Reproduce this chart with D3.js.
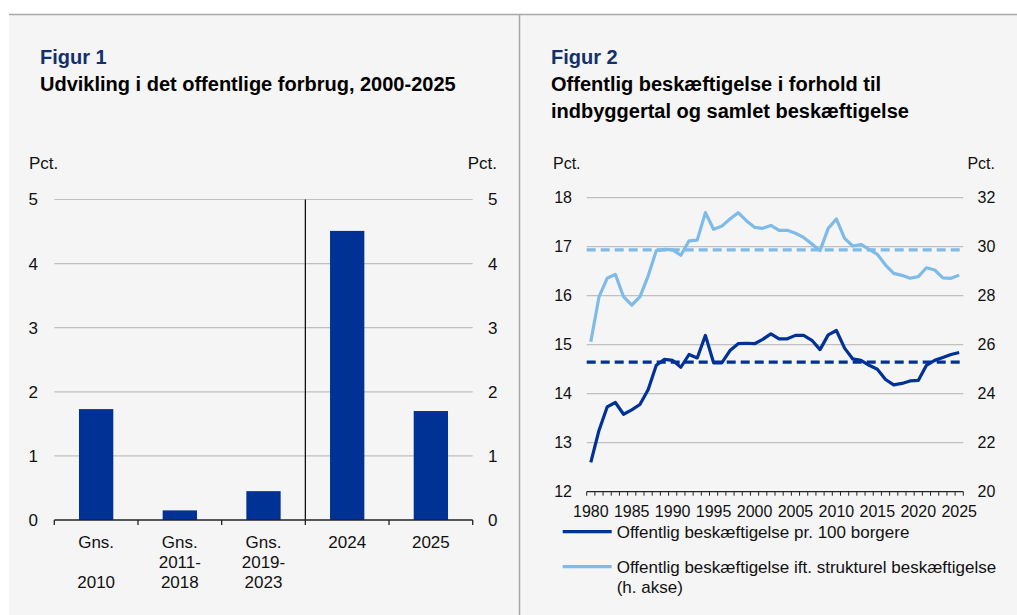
<!DOCTYPE html>
<html><head><meta charset="utf-8">
<script src="https://cdn.jsdelivr.net/npm/d3@7"></script>
<style>
html,body{margin:0;padding:0;background:#fff;}
svg{display:block;font-family:"Liberation Sans",Arial,sans-serif;}
</style></head>
<body>
<script>
// ---------- Data ----------
const fig1Categories = ["Gns.\n\n2010", "Gns.\n2011-\n2018", "Gns.\n2019-\n2023", "2024", "2025"];
const fig1Values = [1.73, 0.15, 0.45, 4.51, 1.70];
const fig1YTicks = [0, 1, 2, 3, 4, 5];

const years = d3.range(1980, 2026);
const perCitizen = [12.60, 13.25, 13.73, 13.82, 13.58, 13.67, 13.78, 14.08, 14.58, 14.70,
  14.68, 14.54, 14.80, 14.73, 15.19, 14.63, 14.63, 14.88, 15.02, 15.03,
  15.02, 15.11, 15.22, 15.12, 15.12, 15.19, 15.19, 15.09, 14.90, 15.20,
  15.29, 14.93, 14.71, 14.68, 14.58, 14.50, 14.29, 14.18, 14.21, 14.26,
  14.27, 14.58, 14.68, 14.74, 14.80, 14.84];
const perStructural = [26.12, 27.95, 28.71, 28.87, 27.96, 27.62, 27.95, 28.80, 29.84, 29.89,
  29.87, 29.65, 30.24, 30.27, 31.39, 30.71, 30.84, 31.13, 31.39, 31.06,
  30.79, 30.75, 30.87, 30.67, 30.67, 30.55, 30.38, 30.11, 29.84, 30.75,
  31.13, 30.34, 30.03, 30.09, 29.89, 29.69, 29.25, 28.91, 28.83, 28.71,
  28.78, 29.14, 29.05, 28.73, 28.71, 28.84];
const perCitizenAvg = 14.645;
const perStructuralAvg = 29.87;
const fig2LeftTicks = [12, 13, 14, 15, 16, 17, 18];
const fig2RightTicks = [20, 22, 24, 26, 28, 30, 32];
const fig2LabelYears = [1980, 1985, 1990, 1995, 2000, 2005, 2010, 2015, 2020, 2025];
const legendLabels = ["Offentlig beskæftigelse pr. 100 borgere", "Offentlig beskæftigelse ift. strukturel beskæftigelse", "(h. akse)"];

// ---------- Styles ----------
const DARK = "#003296", LIGHT = "#7fbbe8", GRID = "#c0c0c0", NAVY = "#132f6c", FILL = "#f5f5f5", BORDER = "#a8a8a8";

const W = 1017, H = 615;
const svg = d3.select("body").append("svg").attr("width", W).attr("height", H);

svg.append("rect").attr("x", 9).attr("y", 14).attr("width", W - 9).attr("height", H - 14).attr("fill", FILL);
svg.append("line").attr("x1", 9).attr("x2", W).attr("y1", 14.5).attr("y2", 14.5).attr("stroke", BORDER).attr("stroke-width", 1.5);
svg.append("line").attr("x1", 519.5).attr("x2", 519.5).attr("y1", 14).attr("y2", H).attr("stroke", BORDER).attr("stroke-width", 1.5);

function title(x, lines) {
  svg.append("text").attr("x", x).attr("y", 64).attr("fill", NAVY).attr("font-weight", "bold").attr("font-size", 20).text(lines[0]);
  lines.slice(1).forEach((t, i) => svg.append("text").attr("x", x).attr("y", 91 + i * 27).attr("fill", "#000")
    .attr("font-weight", "bold").attr("font-size", 20).text(t));
}
title(40, ["Figur 1", "Udvikling i det offentlige forbrug, 2000-2025"]);
title(551, ["Figur 2", "Offentlig beskæftigelse i forhold til", "indbyggertal og samlet beskæftigelse"]);

// ---------- Figure 1 ----------
{
  const fs = 17;
  const x = d3.scaleBand().domain(fig1Categories).range([54.3, 472.7]).paddingInner(0).paddingOuter(0);
  const y = d3.scaleLinear().domain([0, 5]).range([520, 199.5]);
  const g = svg.append("g");
  g.selectAll(".grid").data(fig1YTicks.filter(d => d > 0)).join("line")
    .attr("x1", 54.3).attr("x2", 472.7).attr("y1", d => y(d)).attr("y2", d => y(d))
    .attr("stroke", GRID).attr("stroke-width", 1.2);
  const bw = x.step() * 0.41;
  g.selectAll(".bar").data(fig1Values).join("rect")
    .attr("x", (d, i) => x(fig1Categories[i]) + x.bandwidth() / 2 - bw / 2)
    .attr("width", bw).attr("y", d => y(d)).attr("height", d => y(0) - y(d)).attr("fill", DARK);
  // vertical divider between historical averages and years
  g.append("line").attr("x1", x("2024")).attr("x2", x("2024")).attr("y1", y(5)).attr("y2", y(0))
    .attr("stroke", "#000").attr("stroke-width", 1.2);
  // x axis
  g.append("line").attr("x1", 54.3).attr("x2", 472.7).attr("y1", y(0)).attr("y2", y(0)).attr("stroke", "#222").attr("stroke-width", 1.3);
  const bounds = fig1Categories.map(c => x(c)).concat([472.7]);
  g.selectAll(".tick").data(bounds).join("line").attr("x1", d => d).attr("x2", d => d)
    .attr("y1", y(0)).attr("y2", y(0) + 5).attr("stroke", "#222").attr("stroke-width", 1.3);
  fig1Categories.forEach(c => {
    c.split("\n").forEach((t, i) => {
      if (t) g.append("text").attr("x", x(c) + x.bandwidth() / 2).attr("y", 548 + i * 20)
        .attr("text-anchor", "middle").attr("font-size", fs).attr("fill", "#111").text(t);
    });
  });
  // y labels
  g.selectAll(".yl").data(fig1YTicks).join("text").attr("x", 38).attr("y", d => y(d)).attr("dy", "0.35em")
    .attr("text-anchor", "end").attr("font-size", fs).attr("fill", "#111").text(d => d);
  g.selectAll(".yr").data(fig1YTicks).join("text").attr("x", 488).attr("y", d => y(d)).attr("dy", "0.35em")
    .attr("text-anchor", "start").attr("font-size", fs).attr("fill", "#111").text(d => d);
  g.append("text").attr("x", 29).attr("y", 169).attr("font-size", fs).attr("fill", "#111").text("Pct.");
  g.append("text").attr("x", 497).attr("y", 169).attr("text-anchor", "end").attr("font-size", fs).attr("fill", "#111").text("Pct.");
}

// ---------- Figure 2 ----------
{
  const fs = 16;
  const x0 = 586.7, x1 = 963.3;
  const x = d3.scaleBand().domain(years).range([x0, x1]);
  const cx = d => x(d) + x.bandwidth() / 2;
  const yL = d3.scaleLinear().domain([12, 18]).range([491.7, 197.7]);
  const yR = d3.scaleLinear().domain([20, 32]).range([491.7, 197.7]);
  const g = svg.append("g");
  g.selectAll(".grid").data(fig2LeftTicks.filter(d => d > 12)).join("line")
    .attr("x1", x0).attr("x2", x1).attr("y1", d => yL(d)).attr("y2", d => yL(d))
    .attr("stroke", GRID).attr("stroke-width", 1.2);
  // average dashed lines
  g.append("line").attr("x1", x0).attr("x2", x1).attr("y1", yR(perStructuralAvg)).attr("y2", yR(perStructuralAvg))
    .attr("stroke", LIGHT).attr("stroke-width", 3.2).attr("stroke-dasharray", "9,5");
  g.append("line").attr("x1", x0).attr("x2", x1).attr("y1", yL(perCitizenAvg)).attr("y2", yL(perCitizenAvg))
    .attr("stroke", DARK).attr("stroke-width", 3.2).attr("stroke-dasharray", "9,5");
  // series
  g.append("path").datum(perStructural).attr("fill", "none").attr("stroke", LIGHT).attr("stroke-width", 3.2)
    .attr("stroke-linejoin", "round").attr("d", d3.line().x((d, i) => cx(years[i])).y(d => yR(d)));
  g.append("path").datum(perCitizen).attr("fill", "none").attr("stroke", DARK).attr("stroke-width", 3.2)
    .attr("stroke-linejoin", "round").attr("d", d3.line().x((d, i) => cx(years[i])).y(d => yL(d)));
  // x axis
  g.append("line").attr("x1", x0).attr("x2", x1).attr("y1", yL(12)).attr("y2", yL(12)).attr("stroke", "#222").attr("stroke-width", 1.3);
  const bounds = years.map(d => x(d)).concat([x1]);
  g.selectAll(".tick").data(bounds).join("line").attr("x1", d => d).attr("x2", d => d)
    .attr("y1", yL(12)).attr("y2", yL(12) + 4).attr("stroke", "#222").attr("stroke-width", 1);
  g.selectAll(".xl").data(fig2LabelYears).join("text").attr("x", d => cx(d)).attr("y", 517)
    .attr("text-anchor", "middle").attr("font-size", fs).attr("fill", "#111").text(d => d);
  g.selectAll(".yl").data(fig2LeftTicks).join("text").attr("x", 572).attr("y", d => yL(d)).attr("dy", "0.35em")
    .attr("text-anchor", "end").attr("font-size", fs).attr("fill", "#111").text(d => d);
  g.selectAll(".yr").data(fig2RightTicks).join("text").attr("x", 977.5).attr("y", d => yR(d)).attr("dy", "0.35em")
    .attr("text-anchor", "start").attr("font-size", fs).attr("fill", "#111").text(d => d);
  g.append("text").attr("x", 553).attr("y", 169).attr("font-size", fs).attr("fill", "#111").text("Pct.");
  g.append("text").attr("x", 995).attr("y", 169).attr("text-anchor", "end").attr("font-size", fs).attr("fill", "#111").text("Pct.");
  // legend
  const leg = [{c: DARK, y: 531.7, t: [legendLabels[0]]}, {c: LIGHT, y: 566.7, t: [legendLabels[1], legendLabels[2]]}];
  leg.forEach(l => {
    g.append("line").attr("x1", 562.7).attr("x2", 611.7).attr("y1", l.y).attr("y2", l.y).attr("stroke", l.c).attr("stroke-width", 3.2);
    l.t.forEach((t, i) => g.append("text").attr("x", 616.7).attr("y", l.y + i * 20).attr("dy", "0.35em")
      .attr("font-size", 17).attr("fill", "#111").text(t));
  });
}
</script>
</body></html>
